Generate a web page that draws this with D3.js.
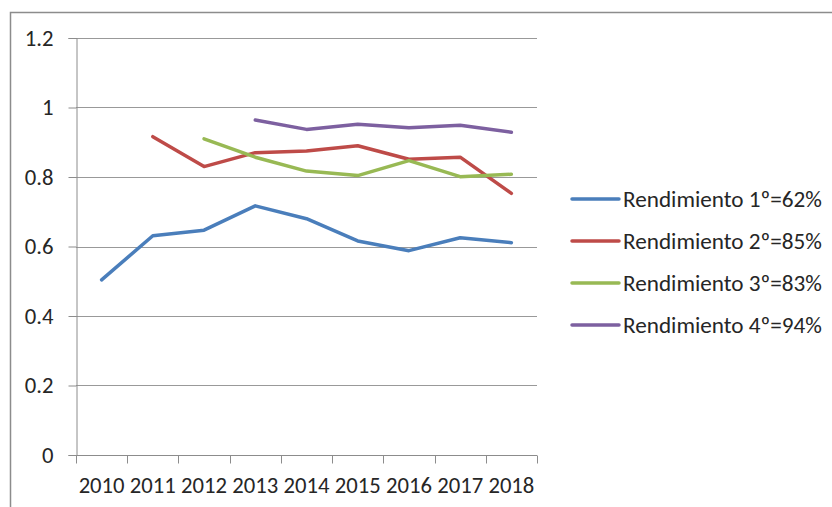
<!DOCTYPE html>
<html>
<head>
<meta charset="utf-8">
<script src="https://cdn.jsdelivr.net/npm/d3@7"></script>
<style>
  html, body { margin: 0; padding: 0; background: #fff; }
  svg { display: block; }
  text { font-family: Carlito, Calibri, Lato, "Open Sans", sans-serif; fill: #262626; }
</style>
</head>
<body>
<script>
const years = ["2010","2011","2012","2013","2014","2015","2016","2017","2018"];
const serie1 = [0.504, 0.631, 0.647, 0.717, 0.680, 0.616, 0.588, 0.625, 0.611];
const serie2 = [null, 0.916, 0.830, 0.870, 0.875, 0.890, 0.851, 0.857, 0.753];
const serie3 = [null, null, 0.910, 0.857, 0.817, 0.804, 0.847, 0.801, 0.808];
const serie4 = [null, null, null, 0.964, 0.937, 0.952, 0.942, 0.949, 0.929];
const seriesNames = ["Rendimiento 1º=62%", "Rendimiento 2º=85%", "Rendimiento 3º=83%", "Rendimiento 4º=94%"];
const seriesColors = ["#4A7EBB", "#BE4B48", "#98B954", "#7D60A0"];
const yTicks = [0, 0.2, 0.4, 0.6, 0.8, 1, 1.2];
const yTickLabels = ["0", "0.2", "0.4", "0.6", "0.8", "1", "1.2"];

(function () {
const W = 832, H = 507;
const svg = d3.select("body").append("svg").attr("width", W).attr("height", H);

// chart frame
svg.append("rect").attr("x", 10.5).attr("y", 12.5).attr("width", 840).attr("height", 520)
  .attr("fill", "none").attr("stroke", "#8c8c8c").attr("stroke-width", 1.5);

const pL = 76, pR = 537, pT = 38, pB = 455;
const x = d3.scaleBand().domain(years).range([pL, pR]);
const y = d3.scaleLinear().domain([0, 1.2]).range([pB, pT]);

// gridlines
svg.append("g").selectAll("line").data(yTicks.filter(d => d > 0)).join("line")
  .attr("x1", pL).attr("x2", pR)
  .attr("y1", d => Math.round(y(d)) + 0.5).attr("y2", d => Math.round(y(d)) + 0.5)
  .attr("stroke", "#999").attr("stroke-width", 1);

// y axis
const yAxis = svg.append("g").attr("transform", `translate(${pL + 0.5},0)`)
  .call(d3.axisLeft(y).tickValues(yTicks).tickFormat((d, i) => yTickLabels[i]).tickSize(8).tickPadding(15));
yAxis.select(".domain").attr("stroke", "#8c8c8c");
yAxis.selectAll(".tick line").attr("stroke", "#8c8c8c");
yAxis.selectAll("text").attr("font-size", 19).attr("fill", "#262626");

// x axis: ticks between categories
const xAxisG = svg.append("g").attr("transform", `translate(0,${pB + 0.5})`);
xAxisG.append("line").attr("x1", pL).attr("x2", pR).attr("stroke", "#8c8c8c");
const bounds = years.map(d => x(d)).concat([pR]);
xAxisG.selectAll("line.tk").data(bounds).join("line").attr("class", "tk")
  .attr("x1", d => Math.round(d) + 0.5).attr("x2", d => Math.round(d) + 0.5)
  .attr("y1", 0).attr("y2", 8).attr("stroke", "#8c8c8c");
const xl = xAxisG.selectAll("text").data(years).join("text")
  .attr("x", d => x(d) + x.bandwidth() / 2).attr("y", 37)
  .attr("text-anchor", "middle").attr("font-size", 19).text(d => d);
const w0 = xl.node().getComputedTextLength();
const fsx = 19 * 46 / w0;
xl.attr("font-size", fsx);
yAxis.selectAll("text").attr("font-size", fsx);

// lines
const allSeries = [serie1, serie2, serie3, serie4];
const line = d3.line()
  .defined(d => d.v !== null)
  .x(d => x(d.year) + x.bandwidth() / 2)
  .y(d => y(d.v));
allSeries.forEach((s, i) => {
  const data = years.map((yr, j) => ({ year: yr, v: s[j] }));
  svg.append("path").datum(data).attr("d", line)
    .attr("fill", "none").attr("stroke", seriesColors[i])
    .attr("stroke-width", 3.5).attr("stroke-linejoin", "round").attr("stroke-linecap", "round");
});

// legend
const legY = [199, 241, 283, 325];
const lg = svg.append("g");
seriesNames.forEach((name, i) => {
  lg.append("line").attr("x1", 572).attr("x2", 619).attr("y1", legY[i]).attr("y2", legY[i])
    .attr("stroke", seriesColors[i]).attr("stroke-width", 3.5).attr("stroke-linecap", "round");
  const t = lg.append("text").attr("x", 623).attr("y", legY[i]).attr("dy", "0.35em")
    .attr("font-size", 19).text(name);
  const w = t.node().getComputedTextLength();
  t.attr("font-size", 19 * 199 / w);
});
})();
</script>
</body>
</html>
